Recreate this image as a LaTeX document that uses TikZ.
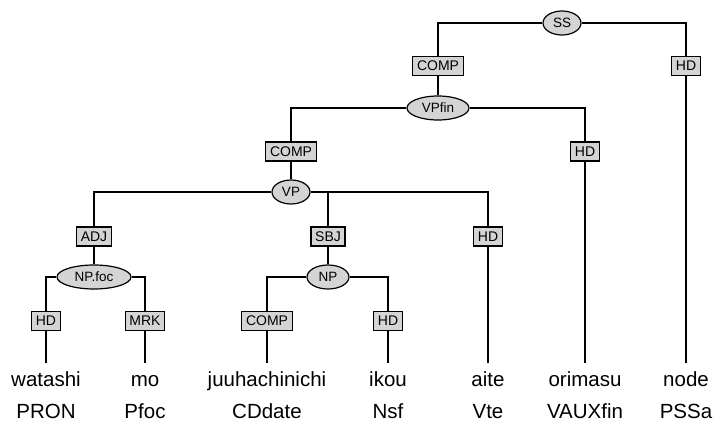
\documentclass[tikz,border=0pt]{standalone}
\usepackage{fontspec}
\setmainfont{Liberation Sans}
\usetikzlibrary{shapes.geometric}
\definecolor{boxgray}{gray}{0.83}
\begin{document}
\begin{tikzpicture}[x=1pt,y=-1pt,
  lab/.style={draw=black, fill=boxgray, line width=1.2pt, inner xsep=4.2pt, inner ysep=0pt, minimum height=19pt, font=\fontsize{14}{17}\selectfont},
  cat/.style={ellipse, draw=black, fill=boxgray, line width=1.2pt, inner sep=0pt, minimum height=24pt, font=\fontsize{13.5}{16}\selectfont},
  word/.style={anchor=base, inner xsep=0pt, inner ysep=9pt, text height=15pt, font=\fontsize{20.5}{24}\selectfont},
  tag/.style={anchor=base, inner sep=0pt, font=\fontsize{20.5}{24}\selectfont},
  edge/.style={line width=1.2pt}]
\useasboundingbox (0,0) rectangle (715,427);

% category ellipses
\node[cat, minimum width=38pt] (SS) at (562,23) {SS};
\node[cat, minimum width=62pt] (VPfin) at (438,108) {VPfin};
\node[cat, minimum width=38pt] (VP) at (291,192) {VP};
\node[cat, minimum width=74pt] (NPfoc) at (94,277) {NP.foc};
\node[cat, minimum width=42pt] (NP) at (328,277) {NP};

% function boxes
\node[lab] (comp1) at (438,66) {COMP};
\node[lab] (hd1) at (686,66) {HD};
\node[lab] (comp2) at (291,151.5) {COMP};
\node[lab] (hd2) at (585,151.5) {HD};
\node[lab] (adj) at (94,236.5) {ADJ};
\node[lab] (sbj) at (328,236.5) {SBJ};
\node[lab] (hd3) at (488,236.5) {HD};
\node[lab] (hd4) at (46,321) {HD};
\node[lab] (mrk) at (145,321) {MRK};
\node[lab] (comp3) at (267,321) {COMP};
\node[lab] (hd5) at (388,321) {HD};

% words
\node[word] (w1) at (46,387) {watashi};
\node[word] (w2) at (145,387) {mo};
\node[word] (w3) at (267,387) {juuhachinichi};
\node[word] (w4) at (388,387) {ikou};
\node[word] (w5) at (488,387) {aite};
\node[word] (w6) at (585,387) {orimasu};
\node[word] (w7) at (686,387) {node};

% tags
\node[tag] (t1) at (46,419) {PRON};
\node[tag] (t2) at (145,419) {Pfoc};
\node[tag] (t3) at (267,419) {CDdate};
\node[tag] (t4) at (388,419) {Nsf};
\node[tag] (t5) at (488,419) {Vte};
\node[tag] (t6) at (585,419) {VAUXfin};
\node[tag] (t7) at (686,419) {PSSa};

% connectors
\draw[edge] (SS.west) -| (comp1.north);
\draw[edge] (SS.east) -| (hd1.north);
\draw[edge] (comp1.south) -- (VPfin.north);
\draw[edge] (hd1.south) -- (w7.north);
\draw[edge] (VPfin.west) -| (comp2.north);
\draw[edge] (VPfin.east) -| (hd2.north);
\draw[edge] (comp2.south) -- (VP.north);
\draw[edge] (hd2.south) -- (w6.north);
\draw[edge] (VP.west) -| (adj.north);
\draw[edge] (VP.east) -| (hd3.north);
\draw[edge] (sbj.north) -- (sbj.north |- VP.east);
\draw[edge] (hd3.south) -- (w5.north);
\draw[edge] (adj.south) -- (NPfoc.north);
\draw[edge] (sbj.south) -- (NP.north);
\draw[edge] (NPfoc.west) -| (hd4.north);
\draw[edge] (NPfoc.east) -| (mrk.north);
\draw[edge] (NP.west) -| (comp3.north);
\draw[edge] (NP.east) -| (hd5.north);
\draw[edge] (hd4.south) -- (w1.north);
\draw[edge] (mrk.south) -- (w2.north);
\draw[edge] (comp3.south) -- (w3.north);
\draw[edge] (hd5.south) -- (w4.north);
\end{tikzpicture}
\end{document}
